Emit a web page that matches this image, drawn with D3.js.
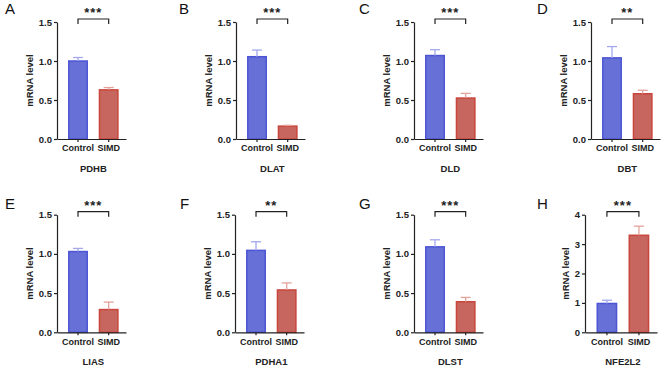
<!DOCTYPE html>
<html>
<head>
<meta charset="utf-8">
<script src="https://cdn.jsdelivr.net/npm/d3@7"></script>
<style>
  body { margin: 0; background: #fff; }
  text { font-family: "Liberation Sans", Arial, sans-serif; }
</style>
</head>
<body>
<div id="chart"></div>
<script>
// data
var genes = ["PDHB", "DLAT", "DLD", "DBT", "LIAS", "PDHA1", "DLST", "NFE2L2"];
var panelLetters = ["A", "B", "C", "D", "E", "F", "G", "H"];
var groups = ["Control", "SIMD"];
var controlMean = [1.00, 1.055, 1.07, 1.04, 1.03, 1.045, 1.09, 0.98];
var controlErr = [0.045, 0.085, 0.075, 0.145, 0.04, 0.11, 0.09, 0.11];
var simdMean = [0.63, 0.165, 0.525, 0.58, 0.29, 0.54, 0.39, 3.30];
var simdErr = [0.03, 0.01, 0.06, 0.045, 0.095, 0.09, 0.055, 0.31];
var significance = ["***", "***", "***", "**", "***", "**", "***", "***"];
var yMax = [1.5, 1.5, 1.5, 1.5, 1.5, 1.5, 1.5, 4];
var yTicks = [
  [0, 0.5, 1.0, 1.5], [0, 0.5, 1.0, 1.5], [0, 0.5, 1.0, 1.5], [0, 0.5, 1.0, 1.5],
  [0, 0.5, 1.0, 1.5], [0, 0.5, 1.0, 1.5], [0, 0.5, 1.0, 1.5], [0, 1, 2, 3, 4]
];

// layout
var W = 669, H = 368;
var axisLeft = [57, 236, 414, 591, 57, 235, 414, 585];
var plotWidth = [69, 69, 69, 69, 69, 69, 69, 72];
var rowTop = [22, 214.7], rowBottom = [139, 332.3];
var letterX = [5, 179, 359, 537, 5, 180, 359, 537];
var letterY = [14, 209];

var fills = ["#6670d6", "#c7665e"];
var strokes = ["#4c55d4", "#c9463c"];
var errColors = ["#a3a9ec", "#e4a29b"];

var svg = d3.select("#chart").append("svg")
  .attr("width", W).attr("height", H);

genes.forEach(function(gene, i) {
  var row = i < 4 ? 0 : 1;
  var x0 = axisLeft[i], x1 = x0 + plotWidth[i];
  var top = rowTop[row], bottom = rowBottom[row];

  var means = [controlMean[i], simdMean[i]];
  var errs = [controlErr[i], simdErr[i]];

  var x = d3.scaleBand().domain(groups).range([x0, x1])
    .paddingInner(0.35).paddingOuter(0.3).align(0.6);
  var y = d3.scaleLinear().domain([0, yMax[i]]).range([bottom, top]);

  var g = svg.append("g");

  // panel letter
  g.append("text").attr("x", letterX[i]).attr("y", letterY[row])
    .attr("font-size", "15px").attr("fill", "#111").text(panelLetters[i]);

  // bars
  g.selectAll(".bar").data(groups).enter().append("rect")
    .attr("x", function(d) { return x(d) + 0.75; })
    .attr("width", x.bandwidth() - 1.5)
    .attr("y", function(d, j) { return y(means[j]); })
    .attr("height", function(d, j) { return y(0) - y(means[j]); })
    .style("fill", function(d, j) { return fills[j]; })
    .style("stroke", function(d, j) { return strokes[j]; })
    .style("stroke-width", 1.5);

  // error bars (upper whisker only)
  groups.forEach(function(grp, j) {
    var cx = x(grp) + x.bandwidth() / 2;
    g.append("line").attr("x1", cx).attr("x2", cx)
      .attr("y1", y(means[j])).attr("y2", y(means[j] + errs[j]))
      .style("stroke", errColors[j]).style("stroke-width", 1.3);
    g.append("line").attr("x1", cx - 5).attr("x2", cx + 5)
      .attr("y1", y(means[j] + errs[j])).attr("y2", y(means[j] + errs[j]))
      .style("stroke", errColors[j]).style("stroke-width", 1.3);
  });

  // y axis
  var fmt = yMax[i] > 2 ? d3.format("d") : d3.format(".1f");
  var yAxis = g.append("g").attr("transform", "translate(" + x0 + ",0)")
    .call(d3.axisLeft(y).tickValues(yTicks[i]).tickFormat(fmt).tickSizeInner(3).tickSizeOuter(0).tickPadding(2));
  yAxis.selectAll("text").attr("font-size", "9.5px").attr("font-weight", "bold").attr("fill", "#222")
    .style("font-family", '"Liberation Sans", Arial, sans-serif');
  yAxis.selectAll("path, line").style("stroke", "#222").style("stroke-width", 1.2);

  // x axis
  var xAxis = g.append("g").attr("transform", "translate(0," + bottom + ")")
    .call(d3.axisBottom(x).tickSizeInner(3).tickSizeOuter(0).tickPadding(3));
  xAxis.selectAll("text").attr("font-size", "9px").attr("font-weight", "bold").attr("fill", "#222")
    .style("font-family", '"Liberation Sans", Arial, sans-serif');
  xAxis.selectAll("path, line").style("stroke", "#222").style("stroke-width", 1.2);

  // y label, placed next to tick labels
  var bb = yAxis.node().getBBox();
  var ly = (top + bottom) / 2;
  var lx = bb.x + x0 - 6;
  g.append("text").attr("transform", "translate(" + lx + "," + ly + ") rotate(-90)")
    .attr("text-anchor", "middle").attr("font-size", "9.5px").attr("font-weight", "bold")
    .attr("fill", "#222").text("mRNA level");

  // gene label
  var c0 = x(groups[0]) + x.bandwidth() / 2, c1 = x(groups[1]) + x.bandwidth() / 2;
  g.append("text").attr("x", (c0 + c1) / 2).attr("y", bottom + 33)
    .attr("text-anchor", "middle").attr("font-size", "9.5px").attr("font-weight", "bold")
    .attr("fill", "#222").text(gene);

  // significance bracket
  var by = top - 3;
  g.append("path")
    .attr("d", "M" + c0 + "," + (by + 5) + "V" + by + "H" + c1 + "V" + (by + 5))
    .style("fill", "none").style("stroke", "#222").style("stroke-width", 1.2);
  g.append("text").attr("x", (c0 + c1) / 2).attr("y", by - 2)
    .attr("text-anchor", "middle").attr("font-size", "13px").attr("font-weight", "bold")
    .attr("letter-spacing", "1px").attr("fill", "#222").text(significance[i]);
});
</script>
</body>
</html>
